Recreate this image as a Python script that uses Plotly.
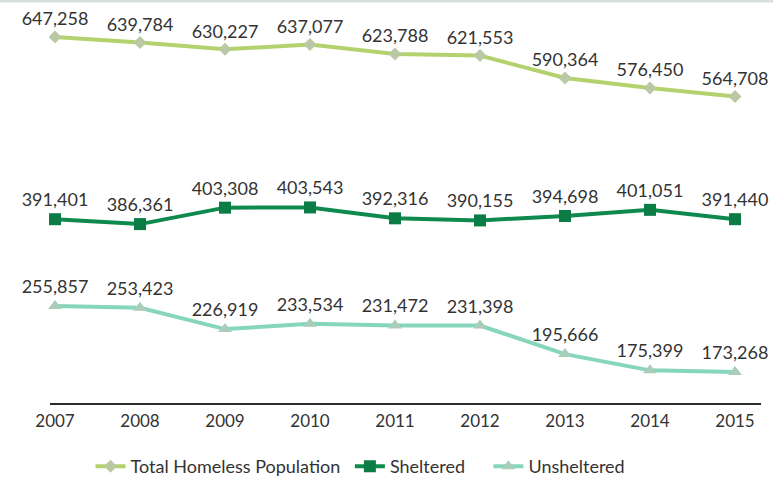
import plotly.graph_objects as go

years = ["2007", "2008", "2009", "2010", "2011", "2012", "2013", "2014", "2015"]
total = [647258, 639784, 630227, 637077, 623788, 621553, 590364, 576450, 564708]
sheltered = [391401, 386361, 403308, 403543, 392316, 390155, 394698, 401051, 391440]
unsheltered = [255857, 253423, 226919, 233534, 231472, 231398, 195666, 175399, 173268]

FONT = "Lato, 'Open Sans', sans-serif"
TXT = "#333333"
NB = "\u00a0"

def fmt(v):
    return [f"{x:,}" for x in v]

fig = go.Figure()
fig.add_trace(go.Scatter(
    x=years, y=total, name="Total Homeless Population" + NB, yaxis="y",
    mode="lines+markers+text", text=fmt(total), textposition="top center",
    textfont=dict(size=18, color=TXT, family=FONT),
    line=dict(color="#b3d26e", width=4),
    marker=dict(symbol="diamond", size=10, color="#b9c9a4"),
    cliponaxis=False,
))
fig.add_trace(go.Scatter(
    x=years, y=sheltered, name="Sheltered" + NB * 4, yaxis="y2",
    mode="lines+markers+text", text=fmt(sheltered), textposition="top center",
    textfont=dict(size=18, color=TXT, family=FONT),
    line=dict(color="#0e8a4e", width=4),
    marker=dict(symbol="square", size=12, color="#0b7c46"),
    cliponaxis=False,
))
fig.add_trace(go.Scatter(
    x=years, y=unsheltered, name="Unsheltered", yaxis="y3",
    mode="lines+markers+text", text=fmt(unsheltered), textposition="top center",
    textfont=dict(size=18, color=TXT, family=FONT),
    line=dict(color="#86d6bd", width=4),
    marker=dict(symbol="triangle-up", size=12, color="#a9cdb8"),
    cliponaxis=False,
))

hidden = dict(visible=False, fixedrange=True, showgrid=False, zeroline=False)
fig.update_layout(
    width=773, height=477,
    margin=dict(l=50, r=12, t=0, b=74, autoexpand=False),
    paper_bgcolor="white", plot_bgcolor="white",
    font=dict(family=FONT, color=TXT),
    showlegend=True,
    xaxis=dict(
        type="category", range=[-0.059, 8.306], showgrid=False, zeroline=False,
        showline=True, linecolor="#2b2b2b", linewidth=2, ticks="",
        tickfont=dict(size=17, color=TXT, family=FONT), ticklabelstandoff=2,
    ),
    yaxis=dict(range=[139024, 698747], **hidden),
    yaxis2=dict(range=[201929, 617393], overlaying="y", **hidden),
    yaxis3=dict(range=[134641, 637762], overlaying="y", **hidden),
    legend=dict(
        orientation="h", x=0.057, xanchor="left", y=-0.112, yanchor="top",
        font=dict(size=18, color=TXT, family=FONT),
        bgcolor="rgba(0,0,0,0)", itemwidth=30,
    ),
    shapes=[
        dict(type="line", xref="paper", yref="paper", x0=-0.1, x1=1.05, y0=1.0, y1=1.0,
             line=dict(color="#d6dede", width=5)),
    ],
)

fig.write_html(
    "out.html",
    config={"displayModeBar": False},
    post_script="document.body.style.margin='0';document.body.style.padding='0';",
)
